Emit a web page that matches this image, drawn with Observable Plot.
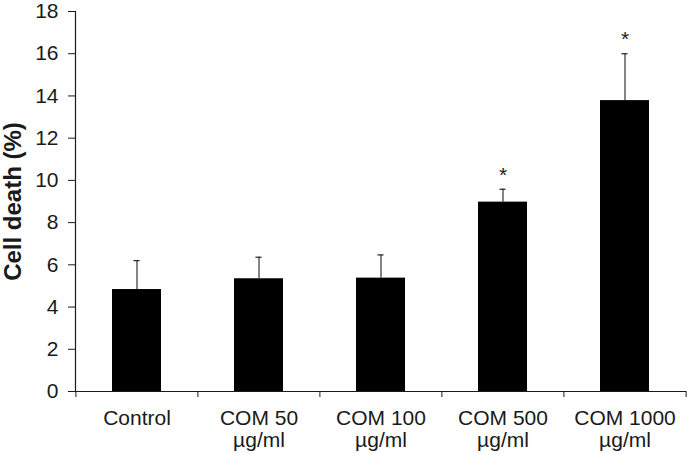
<!DOCTYPE html>
<html>
<head>
<meta charset="utf-8">
<script src="https://cdn.jsdelivr.net/npm/d3@7"></script>
<script src="https://cdn.jsdelivr.net/npm/@observablehq/plot@0.6"></script>
<style>
  html, body { margin: 0; padding: 0; background: #fff; }
  svg { display: block; }
</style>
</head>
<body>
<div id="chart"></div>
<script>
const categories = ["Control", "COM 50\nµg/ml", "COM 100\nµg/ml", "COM 500\nµg/ml", "COM 1000\nµg/ml"];
const means = [4.83, 5.34, 5.37, 8.97, 13.78];
const errors = [1.37, 1.02, 1.10, 0.61, 2.22];
const significant = [false, false, false, true, true];
const yTicks = [0, 2, 4, 6, 8, 10, 12, 14, 16, 18];

const data = categories.map((c, i) => ({cat: c, value: means[i], upper: means[i] + errors[i], sig: significant[i]}));

const W = 689, H = 455, ML = 75, MR = 3, MT = 11, MB = 64;
const step = (W - ML - MR) / categories.length;
const bw = step * 0.4;
const capW = 6;
const font = "'Liberation Sans', Arial, sans-serif";
const axisColor = "#1a1a1a";

const chart = Plot.plot({
  width: W,
  height: H,
  marginLeft: ML,
  marginRight: MR,
  marginTop: MT,
  marginBottom: MB,
  style: {fontFamily: font, color: "#1a1a1a", background: "#fff"},
  x: {domain: categories, paddingInner: 0.6, paddingOuter: 0.3, label: null},
  y: {domain: [0, 18], label: null},
  marks: [
    Plot.barY(data, {x: "cat", y: "value", fill: "#000"}),
    Plot.ruleX(data, {x: "cat", y1: "value", y2: "upper", stroke: "#333", strokeWidth: 1.2}),
    Plot.tickY(data, {x: "cat", y: "upper", stroke: "#222", strokeWidth: 1.2, insetLeft: (bw - capW) / 2, insetRight: (bw - capW) / 2}),
    Plot.text(data.filter(d => d.sig), {x: "cat", y: "upper", text: () => "*", dy: -14, fontSize: 21, fill: "#222"}),
    Plot.ruleY([0], {stroke: axisColor, strokeWidth: 1.2}),
    Plot.frame({anchor: "left", stroke: axisColor, strokeWidth: 1.2}),
    Plot.axisY({ticks: yTicks, tickSize: 7, tickPadding: 10, fontSize: 21, label: null, stroke: axisColor}),
    Plot.axisX({tickSize: 6, tickFormat: () => "", dx: -step / 2, stroke: axisColor, label: null}),
    Plot.axisX([categories[categories.length - 1]], {tickSize: 6, tickFormat: () => "", dx: step / 2, stroke: axisColor, label: null}),
    Plot.axisX({tickSize: 0, tickPadding: 18, fontSize: 21, lineHeight: 1.05, label: null}),
    Plot.text(["Cell death (%)"], {frameAnchor: "left", textAnchor: "middle", dx: -62, y: 9, rotate: -90, fontSize: 24, fontWeight: "bold", fill: "#1a1a1a"})
  ]
});
document.getElementById("chart").appendChild(chart);
</script>
</body>
</html>
